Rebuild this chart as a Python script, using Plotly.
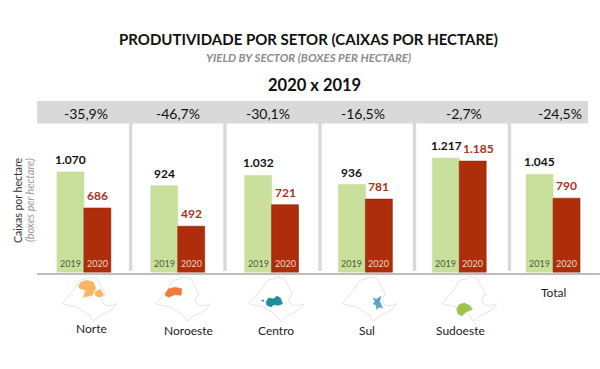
import plotly.graph_objects as go

SECTORS = ["Norte", "Noroeste", "Centro", "Sul", "Sudoeste", "Total"]
Y2019 = [1070, 924, 1032, 936, 1217, 1045]
Y2020 = [686, 492, 721, 781, 1185, 790]
CHANGE = ["-35,9%", "-46,7%", "-30,1%", "-16,5%", "-2,7%", "-24,5%"]
YEARS = ["2019", "2020"]

W, H = 600, 369
FONT = "Lato"
GREEN, RED = "#C9DF9C", "#AE2E0B"
GRAY = "#D9D9D9"

def label(v):
    return f"{v//1000}.{v%1000:03d}" if v >= 1000 else str(v)

def px(x): return x / W
def py(y): return 1 - y / H

fig = go.Figure()
for name, vals, col, line in [(YEARS[0], Y2019, GREEN, GREEN), (YEARS[1], Y2020, RED, "#8E2408")]:
    fig.add_bar(name=name, x=SECTORS, y=vals, marker=dict(color=col, line=dict(color=line, width=0.6)),
                hoverinfo="x+y+name")

PLOT_L, PLOT_R, BASE, TOP = 37, 600, 272.5, 123
shapes = []
# header band and panel separators
shapes.append(dict(type="rect", xref="paper", yref="paper", x0=px(37), x1=px(588), y0=py(123.5), y1=py(101),
                   fillcolor=GRAY, line_width=0, layer="below"))
for c in [130.7, 225, 320, 414.5, 509.5]:
    shapes.append(dict(type="rect", xref="paper", yref="paper", x0=px(c - 1.7), x1=px(c + 1.7), y0=py(271), y1=py(123),
                       fillcolor=GRAY, line_width=0, layer="below"))

# state-map icons (decoration, in icon-local pixels x3)
OUTLINE = [(20,95),(32,84),(42,70),(55,55),(65,42),(70,30),(78,24),(90,22),(105,14),(128,20),(134,35),(142,48),
           (150,65),(144,75),(140,85),(150,100),(172,100),(185,95),(175,110),(150,125),(130,135),(115,148),(105,132),
           (95,125),(80,115),(65,105),(40,100)]
BLOBS = [
    [[(70,42),(78,30),(95,25),(115,30),(122,48),(112,70),(85,76),(92,55),(75,50)],
     [(120,60),(135,52),(146,68),(136,76),(122,72)]],
    [[(50,65),(60,50),(80,46),(100,50),(98,70),(78,68),(60,76),(50,70)]],
    [[(72,90),(80,78),(95,80),(105,72),(115,78),(122,95),(110,100),(95,98),(88,105),(75,100)],
     [(60,84),(65,84),(65,88),(60,88)]],
    [[(114,78),(124,82),(138,72),(134,88),(143,108),(133,106),(125,112),(122,98),(114,96),(120,88)]],
    [[(65,110),(73,97),(88,93),(103,100),(113,112),(93,120),(81,132),(68,125)]],
]
BLOB_COL = ["#F8B565", "#EE7B3A", "#1F8C9C", "#5FA6BF", "#9CC44F"]
ORIGIN = [(55, 272), (148.5, 272), (242, 272), (335, 272), (435, 272)]

def path(points, ox, oy):
    pts = [(px(ox + a / 3), py(oy + b / 3)) for a, b in points]
    return "M " + " L ".join(f"{a:.5f} {b:.5f}" for a, b in pts) + " Z"

for (ox, oy), blobs, col in zip(ORIGIN, BLOBS, BLOB_COL):
    shapes.append(dict(type="path", xref="paper", yref="paper", path=path(OUTLINE, ox, oy),
                       line=dict(color="#E4E4E4", width=1), fillcolor="rgba(0,0,0,0)"))
    for b in blobs:
        shapes.append(dict(type="path", xref="paper", yref="paper", path=path(b, ox, oy),
                           line=dict(color=col, width=0.5), fillcolor=col))

ann = []
def text(t, x, y, size, color="#111111", bold=False, italic=False, angle=0):
    s = t
    if bold: s = f"<b>{s}</b>"
    if italic: s = f"<i>{s}</i>"
    ann.append(dict(text=s, xref="paper", yref="paper", x=px(x), y=py(y), xanchor="center", yanchor="middle",
                    showarrow=False, textangle=angle, font=dict(family=FONT, size=size, color=color)))

text("PRODUTIVIDADE POR SETOR (CAIXAS POR HECTARE)", 308, 39, 15, bold=True)
text("YIELD BY SECTOR (BOXES PER HECTARE)", 308, 58, 11.5, color="#8C8C8C", bold=True, italic=True)
text("2020 x 2019", 314, 85, 16.5, bold=True)
text("Caixas por hectare", 18, 200, 10.5, color="#333333", angle=-90)
text("(boxes per hectare)", 30, 200, 10.8, color="#999999", italic=True, angle=-90)

for t, x in zip(CHANGE, [86, 178, 268, 363, 464, 560]):
    text(t, x, 113, 14, color="#111111")
NAME_POS = [(91, 328), (188, 330), (276, 330), (367, 330), (460, 330), (553, 292)]
for t, (x, y) in zip(SECTORS, NAME_POS):
    text(t, x, y, 12, color="#222222")

SHIFT_19 = [0, 0, 0, 0, 1, 0]
SHIFT_20 = [0, 0, 0, 0, 6, 0]
BAR = 27
for i, s in enumerate(SECTORS):
    for off, vals, shifts, col, tcol, yr in [(-BAR/2, Y2019, SHIFT_19, "#111111", "#4C5C38", YEARS[0]),
                                              (BAR/2, Y2020, SHIFT_20, "#A5341A", "#F3D6C6", YEARS[1])]:
        ann.append(dict(text=f"<b>{label(vals[i])}</b>", x=s, y=vals[i], xref="x", yref="y", xshift=off + shifts[i],
                        yshift=3, yanchor="bottom", xanchor="center", showarrow=False,
                        font=dict(family=FONT, size=12, color=col)))
        ann.append(dict(text=yr, x=s, y=0, xref="x", yref="y", xshift=off, yshift=2, yanchor="bottom",
                        xanchor="center", showarrow=False, font=dict(family=FONT, size=9, color=tcol)))

fig.update_layout(
    width=W, height=H, autosize=False, showlegend=False, barmode="group", bargap=0.426, bargroupgap=0,
    margin=dict(l=0, r=0, t=0, b=0), paper_bgcolor="white", plot_bgcolor="rgba(0,0,0,0)",
    font=dict(family=FONT), shapes=shapes, annotations=ann,
    xaxis=dict(domain=[px(PLOT_L), px(PLOT_R)], anchor="y", showticklabels=False, ticks="", showgrid=False,
               showline=True, linecolor="#BDBDBD", linewidth=1.5, zeroline=False,
               categoryorder="array", categoryarray=SECTORS, range=[-0.5, 5.5]),
    yaxis=dict(domain=[py(BASE), py(TOP)], range=[0, (BASE - TOP) / 0.094], visible=False, showgrid=False, zeroline=False),
)
fig.write_html("out.html", config=dict(displayModeBar=False),
               post_script="document.documentElement.style.margin='0';document.documentElement.style.overflow='hidden';document.body.style.margin='0';document.body.style.overflow='hidden';")
